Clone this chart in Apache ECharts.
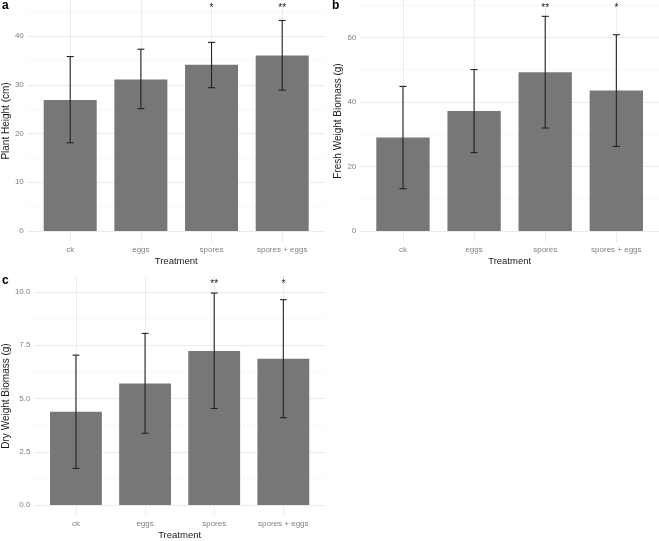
<!DOCTYPE html>
<html>
<head>
<meta charset="utf-8">
<script src="https://cdn.jsdelivr.net/npm/echarts@6/dist/echarts.min.js"></script>
<style>
html,body{margin:0;padding:0;background:#fff;}
#chart{width:659px;height:541px;}
</style>
</head>
<body>
<div id="chart"></div>
<script>
// ---- data ----
var categories = ['ck', 'eggs', 'spores', 'spores + eggs'];

var heightMean = [26.9, 31.1, 34.1, 36.0];
var heightLow  = [18.1, 25.1, 29.4, 28.9];
var heightHigh = [35.8, 37.3, 38.7, 43.2];
var heightSig  = ['', '', '*', '**'];
var heightSigY = [45.7, 45.7, 45.7, 45.7];
var heightTicks = [0, 10, 20, 30, 40];
var heightMinor = [5, 15, 25, 35, 45];

var freshMean = [29.0, 37.2, 49.2, 43.5];
var freshLow  = [13.1, 24.3, 31.9, 26.2];
var freshHigh = [44.8, 50.0, 66.5, 60.8];
var freshSig  = ['', '', '**', '*'];
var freshSigY = [69.1, 69.1, 69.1, 69.1];
var freshTicks = [0, 20, 40, 60];
var freshMinor = [10, 30, 50, 70];

var dryMean = [4.38, 5.70, 7.22, 6.86];
var dryLow  = [1.72, 3.37, 4.53, 4.10];
var dryHigh = [7.03, 8.05, 9.94, 9.63];
var drySig  = ['', '', '**', '*'];
var drySigY = [10.37, 10.37, 10.37, 10.37];
var dryTicks = [0, 2.5, 5, 7.5, 10];
var dryMinor = [1.25, 3.75, 6.25, 8.75];

var catIdx = [0, 1, 2, 3];

// ---- styling ----
var FONT = '"Liberation Sans", Arial, Helvetica, sans-serif';
var BAR = '#77777a';
var GRID_MAJOR = '#ebebeb';
var GRID_MINOR = '#f4f4f4';

var panels = [
  {name: 'Plant Height (cm)', mean: heightMean, low: heightLow, high: heightHigh, sig: heightSig, sigY: heightSigY,
   ticks: heightTicks, minor: heightMinor, min: -2.26, max: 47.4, dec: 0,
   grid: {left: 26.4, top: 0, width: 298.2, height: 242}},
  {name: 'Fresh Weight Biomass (g)', mean: freshMean, low: freshLow, high: freshHigh, sig: freshSig, sigY: freshSigY,
   ticks: freshTicks, minor: freshMinor, min: -3.41, max: 71.56, dec: 0,
   grid: {left: 360.3, top: 0, width: 298.7, height: 242}},
  {name: 'Dry Weight Biomass (g)', mean: dryMean, low: dryLow, high: dryHigh, sig: drySig, sigY: drySigY,
   ticks: dryTicks, minor: dryMinor, min: -0.51, max: 10.74, dec: 1,
   grid: {left: 32.5, top: 276, width: 292.3, height: 242.7}}
];

var grids = [], xAxes = [], yAxes = [], series = [];

panels.forEach(function (p, k) {
  grids.push(Object.assign({containLabel: false}, p.grid));
  xAxes.push({
    type: 'value', gridIndex: k, min: -0.6, max: 3.6,
    name: 'Treatment', nameLocation: 'middle', nameGap: 14,
    nameTextStyle: {fontFamily: FONT, fontSize: 9.5, color: '#1a1a1a'},
    axisLine: {show: false},
    axisTick: {show: false, customValues: catIdx},
    axisLabel: {customValues: catIdx, margin: 4, fontFamily: FONT, fontSize: 8, color: '#808080',
      formatter: function (v) { return categories[Math.round(v)]; }},
    splitLine: {show: true, lineStyle: {color: GRID_MAJOR, width: 1}}
  });
  yAxes.push({
    type: 'value', gridIndex: k, min: p.min, max: p.max,
    name: p.name, nameLocation: 'middle', nameGap: 15,
    nameTextStyle: {fontFamily: FONT, fontSize: 10, color: '#1a1a1a'},
    axisLine: {show: false},
    axisTick: {show: false, customValues: p.ticks},
    axisLabel: {customValues: p.ticks, margin: 4, fontFamily: FONT, fontSize: 8, color: '#808080',
      formatter: function (v) { return v.toFixed(p.dec); }},
    splitLine: {show: true, lineStyle: {color: GRID_MAJOR, width: 1}}
  });
  var minorIdx = yAxes.length;
  yAxes.push({
    type: 'value', gridIndex: k, min: p.min, max: p.max, position: 'left',
    axisLine: {show: false},
    axisTick: {show: false, customValues: p.minor},
    axisLabel: {show: false, customValues: p.minor},
    splitLine: {show: true, lineStyle: {color: GRID_MINOR, width: 0.8}}
  });
  var majorIdx = minorIdx - 1;

  series.push({
    type: 'custom', xAxisIndex: k, yAxisIndex: majorIdx, clip: false, silent: true,
    data: p.mean.map(function (v, i) { return [i, v]; }),
    renderItem: function (params, api) {
      var i = api.value(0), v = api.value(1);
      var a = api.coord([i - 0.375, v]);
      var b = api.coord([i + 0.375, 0]);
      return {type: 'rect', shape: {x: a[0], y: a[1], width: b[0] - a[0], height: b[1] - a[1]},
        style: {fill: BAR}};
    }
  });
  series.push({
    type: 'custom', xAxisIndex: k, yAxisIndex: majorIdx, clip: false, silent: true, z: 3,
    data: p.low.map(function (v, i) { return [i, v, p.high[i]]; }),
    renderItem: function (params, api) {
      var i = api.value(0), lo = api.value(1), hi = api.value(2);
      var t = api.coord([i, hi]), b = api.coord([i, lo]);
      var l = api.coord([i - 0.05, hi])[0], r = api.coord([i + 0.05, hi])[0];
      var st = {stroke: '#222222', lineWidth: 1.1, fill: null};
      return {type: 'group', children: [
        {type: 'line', shape: {x1: t[0], y1: t[1], x2: b[0], y2: b[1]}, style: st},
        {type: 'line', shape: {x1: l, y1: t[1], x2: r, y2: t[1]}, style: st},
        {type: 'line', shape: {x1: l, y1: b[1], x2: r, y2: b[1]}, style: st}
      ]};
    }
  });
  series.push({
    type: 'custom', xAxisIndex: k, yAxisIndex: majorIdx, clip: false, silent: true, z: 4,
    data: p.sigY.map(function (v, i) { return [i, v]; }),
    renderItem: function (params, api) {
      var i = api.value(0);
      var c = api.coord([i, api.value(1)]);
      return {type: 'text', x: c[0], y: c[1],
        style: {text: p.sig[params.dataIndex], fill: '#222222', font: '10px ' + FONT,
          align: 'center', verticalAlign: 'middle'}};
    }
  });
});

var chart = echarts.init(document.getElementById('chart'), null, {renderer: 'canvas'});
chart.setOption({
  animation: false,
  backgroundColor: '#ffffff',
  grid: grids,
  xAxis: xAxes,
  yAxis: yAxes,
  series: series,
  graphic: [
    {type: 'text', left: 2, top: 0, style: {text: 'a', font: 'bold 12px ' + FONT, fill: '#000'}},
    {type: 'text', left: 332, top: 0, style: {text: 'b', font: 'bold 12px ' + FONT, fill: '#000'}},
    {type: 'text', left: 2, top: 275, style: {text: 'c', font: 'bold 12px ' + FONT, fill: '#000'}}
  ]
});
</script>
</body>
</html>
